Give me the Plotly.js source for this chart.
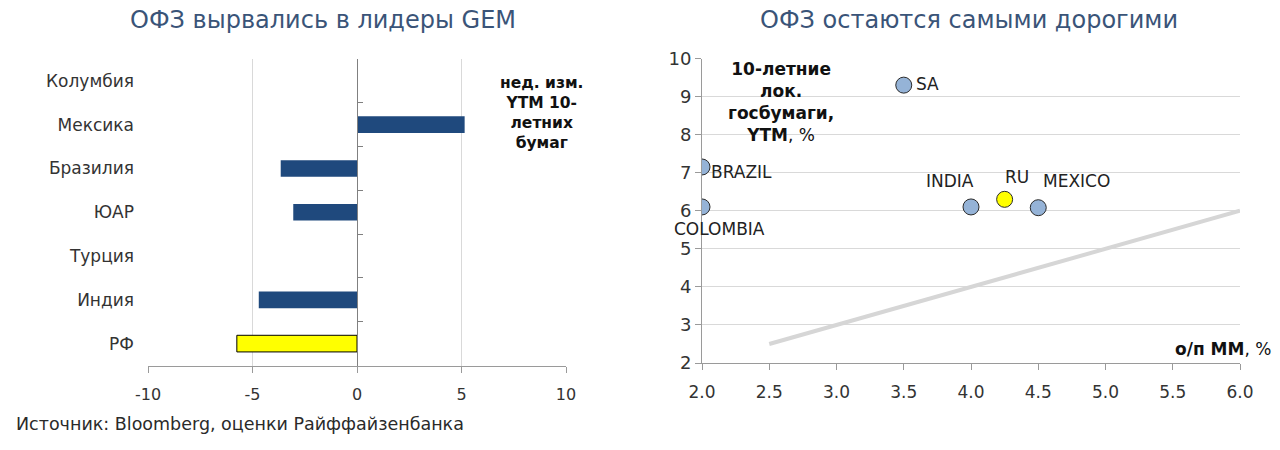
<!DOCTYPE html>
<html><head><meta charset="utf-8">
<script src="https://cdn.plot.ly/plotly-3.0.1.min.js"></script>
<style>html,body{margin:0;padding:0;background:#fff}#chart{width:1280px;height:450px}</style>
</head><body><div id="chart"></div>
<script>
// ---- data: left chart (weekly change in 10Y YTM) ----
const barCategories = ['Колумбия', 'Мексика', 'Бразилия', 'ЮАР', 'Турция', 'Индия', 'РФ'];
const barValues = [0, 5.15, -3.65, -3.05, 0, -4.7, -5.75];
const highlightCategory = 'РФ';
const leftXTicks = [-10, -5, 0, 5, 10];

// ---- data: right chart (10Y local govt YTM vs o/n MM) ----
const scatterLabels = ['SA', 'BRAZIL', 'COLOMBIA', 'INDIA', 'RU', 'MEXICO'];
const scatterX = [3.5, 2.0, 2.0, 4.0, 4.25, 4.5];
const scatterY = [9.3, 7.15, 6.1, 6.1, 6.3, 6.08];
const highlightPoint = 'RU';
const parityX = [2.5, 6.0];
const parityY = [2.5, 6.0];
const rightXTicks = [2.0, 2.5, 3.0, 3.5, 4.0, 4.5, 5.0, 5.5, 6.0];
const rightYTicks = [2, 3, 4, 5, 6, 7, 8, 9, 10];

// ---- text ----
const leftTitle = 'ОФЗ вырвались в лидеры GEM';
const rightTitle = 'ОФЗ остаются самыми дорогими';
const leftNote = '<b>нед. изм.<br>YTM 10-<br>летних<br>бумаг</b>';
const rightYNote = '<b>10-летние<br>лок.<br>госбумаги,<br>YTM</b>, %';
const rightXNote = '<b>о/п ММ</b>, %';
const sourceText = 'Источник: Bloomberg, оценки Райффайзенбанка';

// ---- styling ----
const FONT = 'DejaVu Sans';
const TITLE_COLOR = '#3a5478';
const BLUE = '#1f497d';
const YELLOW = '#ffff00';
const LIGHT_BLUE = '#95b3d7';
const GRID = '#d9d9d9';
const AXIS = '#9a9a9a';

const labelStyle = {
  SA:       {xanchor: 'left',   xshift: 10, yshift: 1},
  BRAZIL:   {xanchor: 'left',   xshift: 7,  yshift: -5},
  COLOMBIA: {xanchor: 'center', xshift: 17, yshift: -22},
  INDIA:    {xanchor: 'right',  xshift: 5,  yshift: 26},
  RU:       {xanchor: 'center', xshift: 12, yshift: 22},
  MEXICO:   {xanchor: 'left',   xshift: 3,  yshift: 27}
};

const isHi = barCategories.map(c => c === highlightCategory);
const mainCats = barCategories.filter((c, i) => !isHi[i]);
const mainVals = barValues.filter((v, i) => !isHi[i]);
const hiCats = barCategories.filter((c, i) => isHi[i]);
const hiVals = barValues.filter((v, i) => isHi[i]);

const traces = [
  {type: 'bar', orientation: 'h', x: mainVals, y: mainCats, xaxis: 'x', yaxis: 'y',
   width: 0.38, marker: {color: BLUE, line: {width: 0}}, hoverinfo: 'x+y', showlegend: false},
  {type: 'bar', orientation: 'h', x: hiVals, y: hiCats, xaxis: 'x', yaxis: 'y3',
   width: 0.38, marker: {color: YELLOW, line: {color: '#000', width: 1}}, hoverinfo: 'x+y', showlegend: false},
  {type: 'scatter', mode: 'lines', x: parityX, y: parityY, xaxis: 'x2', yaxis: 'y2',
   line: {color: '#d6d6d6', width: 4}, hoverinfo: 'skip', showlegend: false},
  {type: 'scatter', mode: 'markers', x: scatterX, y: scatterY, xaxis: 'x2', yaxis: 'y2',
   text: scatterLabels, hoverinfo: 'text+x+y',
   marker: {size: 16, color: scatterLabels.map(l => l === highlightPoint ? YELLOW : LIGHT_BLUE),
            line: {color: '#2b2b2b', width: 1}}, showlegend: false}
];

const leftX0 = 148 / 1280, leftX1 = 566 / 1280;
const yDomLeft = [(450 - 365.5) / 450, (450 - 59) / 450];
const zeroPos = leftX0 + (0 - (-10)) / 20 * (leftX1 - leftX0);

const annotations = [
  {text: leftTitle, xref: 'paper', yref: 'paper', x: 323 / 1280, y: 1 - 20 / 450, showarrow: false,
   xanchor: 'center', yanchor: 'middle', font: {family: FONT, size: 24, color: TITLE_COLOR}},
  {text: rightTitle, xref: 'paper', yref: 'paper', x: 969 / 1280, y: 1 - 20 / 450, showarrow: false,
   xanchor: 'center', yanchor: 'middle', font: {family: FONT, size: 24, color: TITLE_COLOR}},
  {text: leftNote, xref: 'paper', yref: 'paper', x: 541 / 1280, y: 1 - 113 / 450, showarrow: false,
   xanchor: 'center', yanchor: 'middle', align: 'center', font: {family: FONT, size: 15.5, color: '#111'}},
  {text: rightYNote, xref: 'paper', yref: 'paper', x: 781 / 1280, y: 1 - 102 / 450, showarrow: false,
   xanchor: 'center', yanchor: 'middle', align: 'center', font: {family: FONT, size: 17, color: '#111'}},
  {text: rightXNote, xref: 'paper', yref: 'paper', x: 1273 / 1280, y: 1 - 349 / 450, showarrow: false,
   xanchor: 'right', yanchor: 'middle', font: {family: FONT, size: 17, color: '#111'}},
  {text: sourceText, xref: 'paper', yref: 'paper', x: 14 / 1280, y: 1 - 424 / 450, showarrow: false,
   xanchor: 'left', yanchor: 'middle', font: {family: FONT, size: 17.5, color: '#2a2a2a'}}
];
scatterLabels.forEach((lab, i) => {
  const s = labelStyle[lab];
  annotations.push({text: lab, xref: 'x2', yref: 'y2', x: scatterX[i], y: scatterY[i], showarrow: false,
    xanchor: s.xanchor, yanchor: 'middle', xshift: s.xshift, yshift: s.yshift,
    font: {family: FONT, size: 17, color: '#222'}});
});

const layout = {
  width: 1280, height: 450, margin: {l: 0, r: 0, t: 0, b: 0},
  paper_bgcolor: '#fff', plot_bgcolor: '#fff',
  font: {family: FONT, color: '#333'},
  showlegend: false,
  xaxis: {domain: [leftX0, leftX1], anchor: 'y', range: [-10, 10],
    tickmode: 'array', tickvals: leftXTicks, ticktext: leftXTicks.map(v => String(v)),
    showgrid: true, gridcolor: GRID, gridwidth: 1, zeroline: false,
    showline: true, linecolor: AXIS, linewidth: 1, ticks: 'outside', ticklen: 6, tickcolor: AXIS,
    ticklabelstandoff: 8,
    tickfont: {family: FONT, size: 16, color: '#333'}, fixedrange: true},
  yaxis: {domain: yDomLeft, anchor: 'x', type: 'category', categoryorder: 'array', categoryarray: barCategories,
    range: [barCategories.length - 0.5, -0.5], showgrid: false, zeroline: false, showline: false, ticks: '',
    ticklabelstandoff: 13,
    tickfont: {family: FONT, size: 17, color: '#333'}, fixedrange: true},
  yaxis3: {domain: yDomLeft, overlaying: 'y', anchor: 'free', position: zeroPos, side: 'left',
    type: 'category', categoryorder: 'array', categoryarray: barCategories,
    range: [barCategories.length - 0.5, -0.5], showgrid: false, zeroline: false,
    showline: true, linecolor: '#808080', linewidth: 1, ticks: 'inside', ticklen: 5, tickcolor: '#808080',
    tickson: 'boundaries', showticklabels: false, fixedrange: true},
  xaxis2: {domain: [702 / 1280, 1240 / 1280], anchor: 'y2', range: [2, 6], tickvals: rightXTicks,
    tickformat: '.1f', showgrid: false, zeroline: false,
    showline: true, linecolor: AXIS, linewidth: 1, ticks: 'outside', ticklen: 6, tickcolor: AXIS,
    ticklabelstandoff: 8,
    tickfont: {family: FONT, size: 17, color: '#333'}, fixedrange: true},
  yaxis2: {domain: [(450 - 363) / 450, (450 - 58.5) / 450], anchor: 'x2', range: [2, 10], tickvals: rightYTicks,
    showgrid: true, gridcolor: GRID, gridwidth: 1, zeroline: false,
    showline: true, linecolor: AXIS, linewidth: 1, ticks: 'outside', ticklen: 6, tickcolor: AXIS,
    tickfont: {family: FONT, size: 18, color: '#333'}, fixedrange: true},
  annotations: annotations
};

Plotly.newPlot('chart', traces, layout, {displayModeBar: false, staticPlot: true});
</script></body></html>
